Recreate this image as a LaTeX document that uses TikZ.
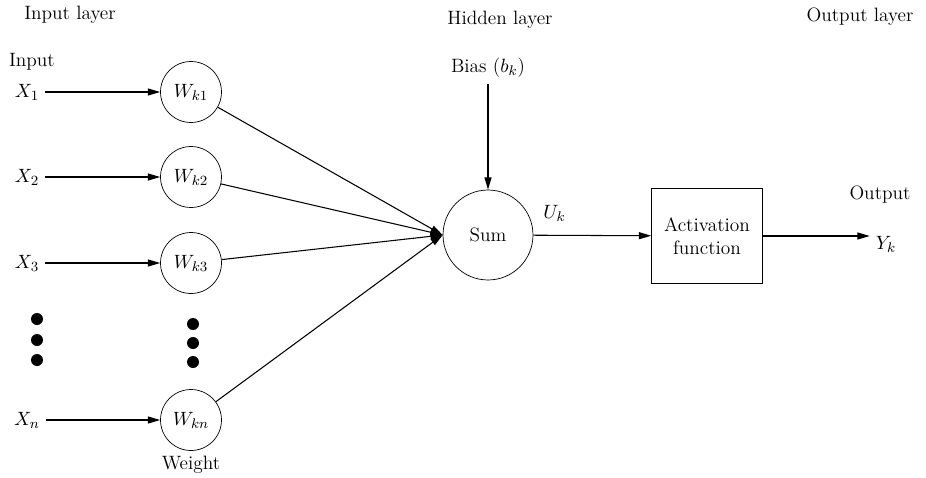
\documentclass[tikz,border=0pt]{standalone}
\usepackage{amsmath}
\usetikzlibrary{arrows.meta}

\tikzset{
  weight/.style={draw, circle, minimum size=1.22cm, inner sep=0pt},
  arr/.style={-{Triangle[length=7pt,width=4pt]}, semithick},
}

\begin{document}
\begin{tikzpicture}[x=0.02cm, y=-0.02cm, font=\fontsize{11}{13}\selectfont]
\useasboundingbox (0,0) rectangle (926,477);
% layer titles
\node (inlayer) at (70,15) {Input layer};
\node (hidlayer) at (500,20) {Hidden layer};
\node (outlayer) at (860,17) {Output layer};
% inputs and weights
\node (input) at (32,62) {Input};
\node (x1) at (27,92) {$X_1$};
\node (x2) at (27,177) {$X_2$};
\node (x3) at (27,263) {$X_3$};
\node (xn) at (27,420) {$X_n$};
\node[weight] (w1) at (191,92) {$W_{k1}$};
\node[weight] (w2) at (191,177) {$W_{k2}$};
\node[weight] (w3) at (191,263) {$W_{k3}$};
\node[weight] (wn) at (191,420) {$W_{kn}$};
\node (weight) at (191,465) {Weight};
\foreach \i in {1,2,3,n}
  \draw[arr] (x\i) -- (w\i);
% dots for the skipped inputs
\foreach \y in {319,340,360}
  \fill (37,\y) circle (0.12cm);
\foreach \y in {324,343,362}
  \fill (193,\y) circle (0.12cm);
% summing junction
\node[draw, circle, minimum size=1.8cm] (sum) at (488,235) {Sum};
\node (bias) at (488,68) {Bias ($b_k$)};
\draw[arr] (bias) -- (sum);
\foreach \i in {1,2,3,n}
  \draw[arr] (w\i) -- (sum.west);
% activation and output
\node[draw, minimum width=2.22cm, minimum height=1.9cm, align=center] (act) at (707,236) {Activation\\function};
\draw[arr] (sum) -- (act) node[pos=0.18, above=4pt] (uk) {$U_k$};
\node (output) at (880,195) {Output};
\node (yk) at (886,244) {$Y_k$};
\draw[arr] (act) -- (act -| yk.west);
\end{tikzpicture}
\end{document}
